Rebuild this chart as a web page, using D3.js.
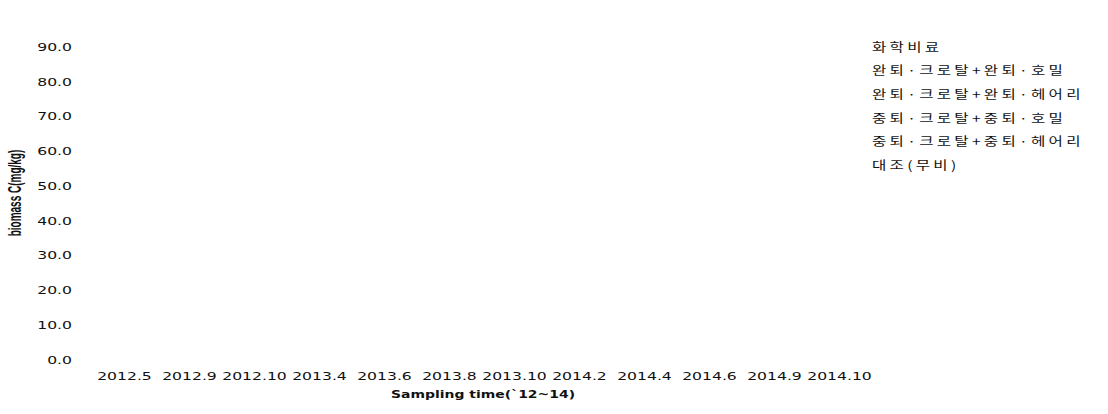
<!DOCTYPE html>
<html>
<head>
<meta charset="utf-8">
<script src="https://cdn.jsdelivr.net/npm/d3@7"></script>
<style>
  body { margin: 0; background: #fff; }
  svg { display: block; }
  text { fill: #111; }
</style>
</head>
<body>
<svg id="chart"></svg>
<script>
// sampling dates on the x axis
const categories = ["2012.5", "2012.9", "2012.10", "2013.4", "2013.6", "2013.8",
                    "2013.10", "2014.2", "2014.4", "2014.6", "2014.9", "2014.10"];
// y axis ticks
const yTicks = [0, 10, 20, 30, 40, 50, 60, 70, 80, 90];
// legend entries (series names)
const seriesNames = ["화학비료", "완퇴·크로탈+완퇴·호밀", "완퇴·크로탈+완퇴·헤어리",
                     "중퇴·크로탈+중퇴·호밀", "중퇴·크로탈+중퇴·헤어리", "대조(무비)"];
// no values are plotted in the picture, every point is empty
const series1 = [null, null, null, null, null, null, null, null, null, null, null, null];
const series2 = [null, null, null, null, null, null, null, null, null, null, null, null];
const series3 = [null, null, null, null, null, null, null, null, null, null, null, null];
const series4 = [null, null, null, null, null, null, null, null, null, null, null, null];
const series5 = [null, null, null, null, null, null, null, null, null, null, null, null];
const series6 = [null, null, null, null, null, null, null, null, null, null, null, null];
const seriesValues = [series1, series2, series3, series4, series5, series6];

const width = 1108, height = 414;
// the source image is stretched sideways, so text is widened too
const stretch = 1.42;

const svg = d3.select("#chart")
    .attr("width", width)
    .attr("height", height);

const x = d3.scaleBand()
    .domain(categories)
    .range([92, 872]);

const y = d3.scaleLinear()
    .domain([0, 90])
    .range([359.2, 46.7]);

// series lines (nothing drawn when values are empty)
const line = d3.line()
    .defined(d => d != null)
    .x((d, i) => x(categories[i]) + x.bandwidth() / 2)
    .y(d => y(d));

svg.append("g")
    .selectAll("path")
    .data(seriesValues)
    .join("path")
    .attr("d", d => line(d))
    .attr("fill", "none")
    .attr("stroke", "#000");

// y axis, labels only
const yAxis = svg.append("g")
    .attr("transform", "translate(72,0)")
    .call(d3.axisLeft(y).tickValues(yTicks).tickFormat(d3.format(".1f")).tickSize(0));
yAxis.select(".domain").remove();
yAxis.selectAll("text")
    .attr("x", 0)
    .attr("dy", "0.35em")
    .attr("transform", `scale(${stretch},1)`)
    .style("font-family", "DejaVu Sans")
    .style("font-size", "11px");

// x axis, labels only
const xAxis = svg.append("g")
    .attr("transform", "translate(0,376)")
    .call(d3.axisBottom(x).tickSize(0));
xAxis.select(".domain").remove();
xAxis.selectAll("text")
    .attr("y", 0)
    .attr("dy", "0.35em")
    .attr("transform", `scale(${stretch},1)`)
    .style("font-family", "DejaVu Sans")
    .style("font-size", "11px");

// axis titles
svg.append("text")
    .attr("transform", "translate(483,398) scale(1.27,1)")
    .attr("text-anchor", "middle")
    .style("font-family", "DejaVu Sans")
    .style("font-weight", "bold")
    .style("font-size", "11px")
    .text("Sampling time(`12~14)");

svg.append("text")
    .attr("transform", "translate(21,193) rotate(-90) scale(1,1.8)")
    .attr("text-anchor", "middle")
    .style("font-family", "Liberation Sans")
    .style("font-weight", "bold")
    .style("font-size", "10px")
    .text("biomass C(mg/kg)");

// legend, text only
const legend = svg.append("g");
legend.selectAll("text")
    .data(seriesNames)
    .join("text")
    .attr("transform", (d, i) => `translate(872,${47.5 + i * 23.6}) scale(1.3,1)`)
    .attr("dy", "0.35em")
    .style("font-family", "Noto Sans CJK KR")
    .style("font-size", "12px")
    .style("letter-spacing", "2.5px")
    .text(d => d);
</script>
</body>
</html>
